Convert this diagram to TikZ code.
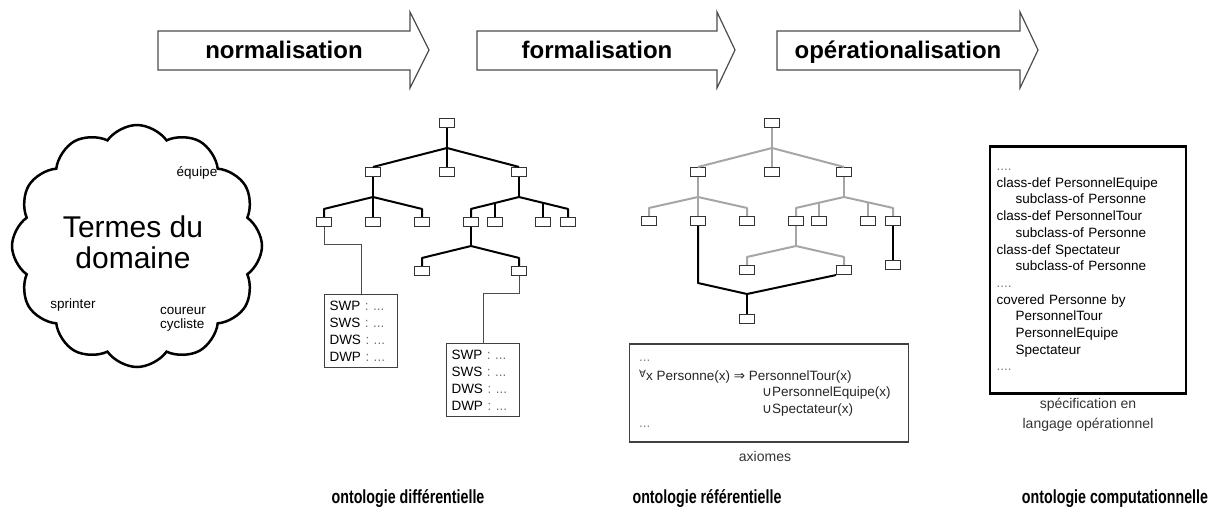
\documentclass[tikz,border=0pt]{standalone}
\usepackage{fontspec}
\setmainfont{Liberation Sans}
\newfontfamily\symfont{DejaVu Sans}
\newfontfamily\narrowfont[FakeStretch=0.75]{Liberation Sans}
\usetikzlibrary{shapes.symbols}
\tikzset{
  tbox/.style={draw=black!80, line width=1.1pt, fill=white, minimum width=15pt, minimum height=9pt, inner sep=0pt},
  tedge/.style={line width=2pt, line join=round},
  gedge/.style={line width=2pt, line join=round, black!35},
  lnk/.style={line width=1pt, black!70},
  parrow/.style={draw=black!70, line width=1.2pt, fill=white},
  ptext/.style={font=\bfseries\fontsize{24}{28}\selectfont, anchor=base},
  small/.style={font=\fontsize{13.5}{14}\selectfont, inner sep=0pt},
  sbox/.style={draw=black!75, line width=1.2pt, text width=63pt, inner sep=5pt, align=left, minimum height=73pt, font=\fontsize{13.5}{17}\selectfont},
  axtext/.style={font=\fontsize{13.5}{16}\selectfont, text=black!85, inner sep=0pt, anchor=west},
  specbox/.style={draw, line width=2.2pt, minimum width=196pt, minimum height=247pt, text width=183pt, inner sep=6pt, align=left, font=\fontsize{13.5}{16.7}\selectfont},
  lbl/.style={font=\narrowfont\bfseries\fontsize{19}{22}\selectfont}
}
\begin{document}
\begin{tikzpicture}[x=1pt, y=-1pt]
\useasboundingbox (0,0) rectangle (1230,512);

\draw[parrow] (158,31) -- (410,31) -- (410,12) -- (429,50) -- (410,88) -- (410,70) -- (158,70) -- cycle;
\node[ptext] (norm) at (284,58) {normalisation};
\draw[parrow] (477,31) -- (717,31) -- (717,12) -- (735,50) -- (717,88) -- (717,70) -- (477,70) -- cycle;
\node[ptext] (form) at (597,58) {formalisation};
\draw[parrow] (777,31) -- (1020,31) -- (1020,12) -- (1038,50) -- (1020,88) -- (1020,70) -- (777,70) -- cycle;
\node[ptext] (oper) at (898,58) {opérationalisation};

\node[cloud, cloud puffs=12, cloud puff arc=110, aspect=1.03, draw, line width=2.5pt, minimum width=250pt, minimum height=242pt, inner sep=0pt] (dom) at (137,246) {};
\node[font=\fontsize{30}{31}\selectfont, align=center] (termes) at (133,242) {Termes du\\domaine};
\node[small] (equipe) at (197,173) {équipe};
\node[small] (sprinter) at (73,305) {sprinter};
\node[small, align=left] (coureur) at (183,319) {coureur\\cycliste};

% ontologie differentielle
\node[tbox] (r1) at (447,123) {};
\node[tbox] (a1) at (373,172) {};
\node[tbox] (b1) at (447,172) {};
\node[tbox] (c1) at (519,172) {};
\node[tbox] (a11) at (324,222) {};
\node[tbox] (a12) at (373,222) {};
\node[tbox] (a13) at (422,222) {};
\node[tbox] (c11) at (471,222) {};
\node[tbox] (c12) at (495,222) {};
\node[tbox] (c13) at (543,222) {};
\node[tbox] (c14) at (568,222) {};
\node[tbox] (d11) at (422,271) {};
\node[tbox] (d12) at (519,271) {};
\coordinate (j1) at (447,148);
\coordinate (ja1) at (373,197);
\coordinate (jc1) at (519,197);
\coordinate (jd1) at (471,246);
\draw[tedge] (r1.south) -- (j1) -- (b1.north);
\draw[tedge] (a1.north) -- (j1) -- (c1.north);
\draw[tedge] (a1.south) -- (ja1) -- (a12.north);
\draw[tedge] (a11.north) -- ([yshift=8pt]a11.north) -- (ja1) -- ([yshift=8pt]a13.north) -- (a13.north);
\draw[tedge] (c1.south) -- (jc1);
\draw[tedge] (c11.north) -- ([yshift=8pt]c11.north) -- (jc1) -- ([yshift=8pt]c14.north) -- (c14.north);
\draw[tedge] (c12.north) -- ([yshift=14pt]c12.north);
\draw[tedge] (c13.north) -- ([yshift=14pt]c13.north);
\draw[tedge] (c11.south) -- (jd1);
\draw[tedge] (d11.north) -- ([yshift=8pt]d11.north) -- (jd1) -- ([yshift=8pt]d12.north) -- (d12.north);

\node[sbox] (s1) at (361,331) {SWP {\color{black!55}: ...}\\SWS {\color{black!55}: ...}\\DWS {\color{black!55}: ...}\\DWP {\color{black!55}: ...}};
\node[sbox] (s2) at (483,380) {SWP {\color{black!55}: ...}\\SWS {\color{black!55}: ...}\\DWS {\color{black!55}: ...}\\DWP {\color{black!55}: ...}};
\draw[lnk] (a11.south) |- ([yshift=49pt]s1.north) -- (s1.north);
\draw[lnk] (d12.south) |- ([yshift=49pt]s2.north) -- (s2.north);

% ontologie referentielle
\node[tbox] (r2) at (772,123) {};
\node[tbox] (a2) at (698,172) {};
\node[tbox] (b2) at (772,172) {};
\node[tbox] (c2) at (844,172) {};
\node[tbox] (a21) at (649,221) {};
\node[tbox] (a22) at (698,221) {};
\node[tbox] (a23) at (747,221) {};
\node[tbox] (c21) at (796,221) {};
\node[tbox] (c22) at (819,221) {};
\node[tbox] (c23) at (868,221) {};
\node[tbox] (c24) at (893,221) {};
\node[tbox] (d21) at (747,270) {};
\node[tbox] (d22) at (844,270) {};
\node[tbox] (e2) at (893,265) {};
\node[tbox] (f2) at (747,319) {};
\coordinate (j2) at (772,148);
\coordinate (ja2) at (698,197);
\coordinate (jc2) at (844,197);
\coordinate (jd2) at (796,246);
\coordinate (ka) at (698,283);
\coordinate (jf) at (747,294);
\draw[gedge] (r2.south) -- (j2) -- (b2.north);
\draw[gedge] (a2.north) -- (j2) -- (c2.north);
\draw[gedge] (a2.south) -- (ja2) -- (a22.north);
\draw[gedge] (a21.north) -- ([yshift=8pt]a21.north) -- (ja2) -- ([yshift=8pt]a23.north) -- (a23.north);
\draw[gedge] (c2.south) -- (jc2);
\draw[gedge] (c21.north) -- ([yshift=8pt]c21.north) -- (jc2) -- ([yshift=8pt]c24.north) -- (c24.north);
\draw[gedge] (c22.north) -- ([yshift=14pt]c22.north);
\draw[gedge] (c23.north) -- ([yshift=14pt]c23.north);
\draw[gedge] (c21.south) -- (jd2);
\draw[gedge] (d21.north) -- ([yshift=8pt]d21.north) -- (jd2) -- ([yshift=8pt]d22.north) -- (d22.north);
\draw[tedge] (a22.south) -- (ka) -- (jf) -- (d22.south west);
\draw[tedge] (jf) -- (f2.north);
\draw[tedge] (c24.south) -- (e2.north);

\node[draw=black!75, line width=1.4pt, minimum width=279pt, minimum height=98pt] (ax) at (769,393) {};
\node[axtext, text=black!50] (axd1) at (639,361) {...};
\node[axtext] (ax1) at (639,377) {{\symfont\fontsize{10}{10}\selectfont\raisebox{3pt}{∀}}x Personne(x) {\symfont ⇒} PersonnelTour(x)};
\node[axtext] (ax2) at (762,393) {{\symfont ∪}PersonnelEquipe(x)};
\node[axtext] (ax3) at (762,410) {{\symfont ∪}Spectateur(x)};
\node[axtext, text=black!50] (axd2) at (639,427) {...};
\node[font=\fontsize{14}{16}\selectfont, text=black!80] (axiomes) at (765,456) {axiomes};

% ontologie computationnelle
\node[specbox] (spec) at (1088,270) {{\color{black!50}....}\\
class-def PersonnelEquipe\\
\hspace*{19pt}subclass-of Personne\\
class-def PersonnelTour\\
\hspace*{19pt}subclass-of Personne\\
class-def Spectateur\\
\hspace*{19pt}subclass-of Personne\\
{\color{black!50}....}\\
covered Personne by\\
\hspace*{19pt}PersonnelTour\\
\hspace*{19pt}PersonnelEquipe\\
\hspace*{19pt}Spectateur\\
{\color{black!50}....}};
\node[font=\fontsize{14}{20}\selectfont, text=black!80, align=center, inner sep=0pt] (specif) at (1088,415) {spécification en\\langage opérationnel};

\node[lbl] (odiff) at (408,499) {ontologie différentielle};
\node[lbl] (oref) at (707,499) {ontologie référentielle};
\node[lbl] (ocomp) at (1115,499) {ontologie computationnelle};
\end{tikzpicture}
\end{document}
